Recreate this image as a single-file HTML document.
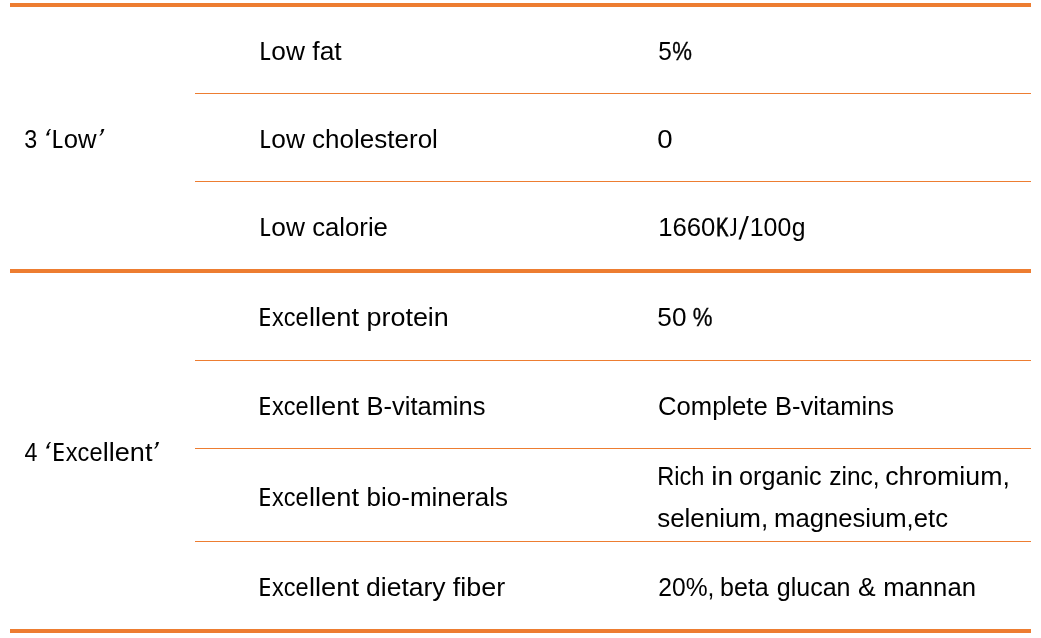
<!DOCTYPE html>
<html lang="en">
<head>
<meta charset="utf-8">
<title>Table</title>
<style>
html,body{margin:0;padding:0;background:#fff;}
body{width:1041px;height:638px;position:relative;overflow:hidden;font-family:"Liberation Sans",sans-serif;}
#tbl{position:absolute;left:0;top:0;width:1041px;height:638px;will-change:transform;}
.r{position:absolute;background:#ED7D31;}
.sl{position:absolute;left:730px;top:210px;width:30px;height:36px;overflow:visible;}
.t{position:absolute;left:0;top:0;white-space:pre;font-size:25.4px;line-height:30px;height:30px;color:#000;transform-origin:0 0;}

</style>
</head>
<body>
<div id="tbl">
<div class="r" style="left:10px;top:3px;width:1021px;height:4px"></div>
<div class="r" style="left:10px;top:269px;width:1021px;height:4px"></div>
<div class="r" style="left:10px;top:629px;width:1021px;height:4px"></div>
<div class="r" style="left:195px;top:93px;width:836px;height:1px"></div>
<div class="r" style="left:195px;top:181px;width:836px;height:1px"></div>
<div class="r" style="left:195px;top:360px;width:836px;height:1px"></div>
<div class="r" style="left:195px;top:448px;width:836px;height:1px"></div>
<div class="r" style="left:195px;top:541px;width:836px;height:1px"></div>
<svg class="sl" width="30" height="36" viewBox="0 0 30 36"><polygon points="8.5,29.6 10.8,29.6 18.85,5.9 16.55,5.9" fill="#000"/></svg>
<span class="t" style="transform:translate(24.25px,124.00px) scaleX(0.9183)">3</span>
<span class="t" style="font-size:29px;transform:translate(48.29px,124.00px) scaleX(1.0000) skewX(-20deg)">‘</span>
<span class="t" style="clip-path:polygon(0 0,10.94px 0,10.94px 40px,0 40px);transform:translate(51.51px,124.00px) scaleX(1.0000)">L</span>
<span class="t" style="transform:translate(63.65px,124.00px) scaleX(1.0114)">ow</span>
<span class="t" style="font-size:29px;transform:translate(101.48px,124.00px) scaleX(1.0000) skewX(-20deg)">’</span>
<span class="t" style="transform:translate(24.59px,437.00px) scaleX(0.9163)">4</span>
<span class="t" style="font-size:29px;transform:translate(48.30px,437.00px) scaleX(1.0000) skewX(-20deg)">‘</span>
<span class="t" style="clip-path:polygon(0 0,11.51px 0,11.51px 40px,0 40px);transform:translate(52.04px,437.00px) scaleX(1.0000)">E</span>
<span class="t" style="transform:translate(65.83px,437.00px) scaleX(0.9282)">xce</span>
<span class="t" style="transform:translate(102.78px,437.00px) scaleX(1.0665)">llent</span>
<span class="t" style="font-size:29px;transform:translate(156.28px,437.00px) scaleX(1.0000) skewX(-20deg)">’</span>
<span class="t" style="clip-path:polygon(0 0,10.78px 0,10.78px 40px,0 40px);transform:translate(259.37px,36.00px) scaleX(1.0000)">L</span>
<span class="t" style="transform:translate(271.28px,36.00px) scaleX(1.0344)">ow</span>
<span class="t" style="transform:translate(312.30px,36.00px) scaleX(1.0396)">fat</span>
<span class="t" style="clip-path:polygon(0 0,10.78px 0,10.78px 40px,0 40px);transform:translate(259.37px,124.00px) scaleX(1.0000)">L</span>
<span class="t" style="transform:translate(271.28px,124.00px) scaleX(1.0344)">ow</span>
<span class="t" style="transform:translate(312.09px,124.00px) scaleX(1.0246)">cholesterol</span>
<span class="t" style="clip-path:polygon(0 0,10.78px 0,10.78px 40px,0 40px);transform:translate(259.37px,212.00px) scaleX(1.0000)">L</span>
<span class="t" style="transform:translate(271.28px,212.00px) scaleX(1.0344)">ow</span>
<span class="t" style="transform:translate(312.13px,212.00px) scaleX(1.0135)">calorie</span>
<span class="t" style="clip-path:polygon(0 0,11.48px 0,11.48px 40px,0 40px);transform:translate(258.37px,302.00px) scaleX(1.0000)">E</span>
<span class="t" style="transform:translate(271.90px,302.00px) scaleX(0.9261)">xce</span>
<span class="t" style="transform:translate(308.98px,302.00px) scaleX(1.0729)">llent</span>
<span class="t" style="transform:translate(366.49px,302.00px) scaleX(1.0603)">protein</span>
<span class="t" style="clip-path:polygon(0 0,11.48px 0,11.48px 40px,0 40px);transform:translate(258.37px,391.00px) scaleX(1.0000)">E</span>
<span class="t" style="transform:translate(271.90px,391.00px) scaleX(0.9261)">xce</span>
<span class="t" style="transform:translate(308.98px,391.00px) scaleX(1.0729)">llent</span>
<span class="t" style="transform:translate(366.51px,391.00px) scaleX(1.0035)">B-vitamins</span>
<span class="t" style="clip-path:polygon(0 0,11.48px 0,11.48px 40px,0 40px);transform:translate(258.37px,482.00px) scaleX(1.0000)">E</span>
<span class="t" style="transform:translate(271.90px,482.00px) scaleX(0.9261)">xce</span>
<span class="t" style="transform:translate(308.98px,482.00px) scaleX(1.0729)">llent</span>
<span class="t" style="transform:translate(366.59px,482.00px) scaleX(1.0232)">bio-minerals</span>
<span class="t" style="clip-path:polygon(0 0,11.48px 0,11.48px 40px,0 40px);transform:translate(258.37px,572.00px) scaleX(1.0000)">E</span>
<span class="t" style="transform:translate(271.90px,572.00px) scaleX(0.9261)">xce</span>
<span class="t" style="transform:translate(308.98px,572.00px) scaleX(1.0729)">llent</span>
<span class="t" style="transform:translate(366.09px,572.00px) scaleX(1.0428)">dietary</span>
<span class="t" style="transform:translate(452.86px,572.00px) scaleX(1.0610)">fiber</span>
<span class="t" style="transform:translate(658.29px,36.00px) scaleX(0.9609)">5</span>
<span class="t" style="-webkit-text-stroke:0.35px #000;transform:translate(672.26px,36.00px) scaleX(0.8721)">%</span>
<span class="t" style="transform:translate(657.15px,124.00px) scaleX(1.0877)">0</span>
<span class="t" style="transform:translate(658.16px,212.00px) scaleX(1.0135)">1660</span>
<span class="t" style="-webkit-text-stroke:0.8px #000;transform:translate(716.29px,212.00px) scaleX(0.7217)">K</span>
<span class="t" style="clip-path:polygon(8.2px 0,30px 0,30px 40px,4.33px 40px,4.33px 12px,8.2px 12px);transform:translate(726.44px,212.00px) scaleX(0.8800)">J</span>
<span class="t" style="transform:translate(749.78px,212.00px) scaleX(0.9801)">100</span>
<span class="t" style="transform:translate(791.67px,212.00px) scaleX(0.9716)">g</span>
<span class="t" style="transform:translate(657.37px,302.00px) scaleX(1.0299)">50</span>
<span class="t" style="-webkit-text-stroke:0.35px #000;transform:translate(692.80px,302.00px) scaleX(0.8735)">%</span>
<span class="t" style="transform:translate(657.98px,391.00px) scaleX(1.0102)">Complete</span>
<span class="t" style="transform:translate(775.08px,391.00px) scaleX(1.0042)">B-vitamins</span>
<span class="t" style="transform:translate(657.26px,461.00px) scaleX(0.9291)">Rich</span>
<span class="t" style="transform:translate(711.31px,461.00px) scaleX(1.1012)">in</span>
<span class="t" style="transform:translate(739.11px,461.00px) scaleX(0.9897)">organic</span>
<span class="t" style="transform:translate(829.13px,461.00px) scaleX(0.9678)">zinc,</span>
<span class="t" style="transform:translate(885.15px,461.00px) scaleX(1.0521)">chromium,</span>
<span class="t" style="transform:translate(657.18px,503.00px) scaleX(1.0212)">selenium,</span>
<span class="t" style="transform:translate(774.03px,503.00px) scaleX(1.0102)">magnesium,etc</span>
<span class="t" style="transform:translate(658.27px,572.00px) scaleX(0.9694)">20%,</span>
<span class="t" style="transform:translate(720.09px,572.00px) scaleX(0.9854)">beta</span>
<span class="t" style="transform:translate(776.76px,572.00px) scaleX(0.9860)">glucan</span>
<span class="t" style="transform:translate(857.90px,572.00px) scaleX(1.0418)">&amp;</span>
<span class="t" style="transform:translate(883.14px,572.00px) scaleX(1.0117)">mannan</span>
</div>
</body>
</html>
